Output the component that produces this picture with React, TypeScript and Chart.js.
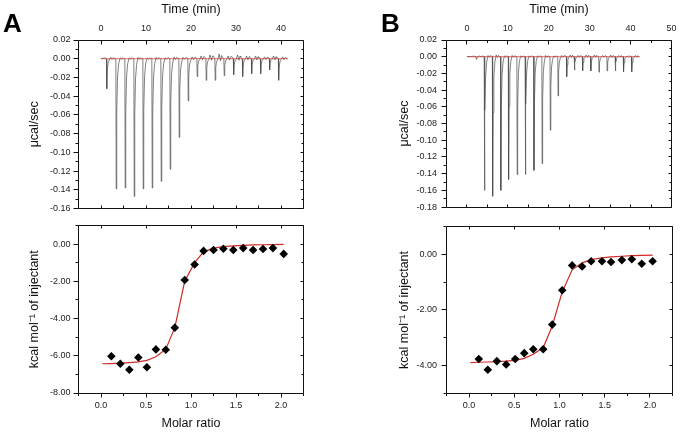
import React, { useEffect, useRef } from 'react';
import { Chart, registerables } from 'chart.js';

Chart.register(...registerables);
Chart.defaults.font.family = "'Liberation Sans', Arial, sans-serif";

// ---------------- Panel A data ----------------
const injTimeA = [1.2, 3.3, 5.3, 7.3, 9.3, 11.3, 13.3, 15.3, 17.3, 19.3, 21.3, 23.3, 25.3, 27.3, 29.4, 31.4, 33.4, 35.4, 37.4, 39.4];
const injPeakA = [-0.032, -0.139, -0.138, -0.147, -0.139, -0.138, -0.131, -0.118, -0.084, -0.045, -0.019, -0.023, -0.023, -0.018, -0.017, -0.019, -0.016, -0.016, -0.012, -0.023];
const injNoiseA = [0.0015, 0.001, 0.001, 0.0015, 0.001, 0.0015, 0.001, 0.002, 0.0015, 0.002, 0.003, 0.004, 0.005, 0.003, 0.004, 0.003, 0.003, 0.002, 0.003, 0.002];
const traceEndA = 41.4;
const baselineA = [0, 41.6];

const molarA = [0.115, 0.215, 0.315, 0.415, 0.51, 0.61, 0.72, 0.82, 0.93, 1.04, 1.14, 1.25, 1.36, 1.47, 1.58, 1.69, 1.80, 1.91, 2.03];
const heatA = [-6.03, -6.43, -6.75, -6.09, -6.62, -5.66, -5.68, -4.49, -1.93, -1.10, -0.37, -0.32, -0.25, -0.32, -0.22, -0.32, -0.27, -0.22, -0.53];
const fitMolarA = [0.015, 0.115, 0.215, 0.315, 0.415, 0.51, 0.61, 0.72, 0.82, 0.93, 1.04, 1.14, 1.25, 1.36, 1.47, 1.58, 1.69, 1.80, 1.91, 2.03];
const fitHeatA = [-6.43, -6.42, -6.40, -6.37, -6.33, -6.25, -6.05, -5.65, -4.49, -2.0, -1.0, -0.42, -0.22, -0.14, -0.10, -0.07, -0.05, -0.04, -0.03, -0.02];

// ---------------- Panel B data ----------------
const injTimeB = [2.2, 4.2, 6.2, 8.2, 10.1, 12.2, 14.2, 16.3, 18.3, 20.3, 22.2, 24.3, 26.2, 28.2, 30.2, 32.2, 34.2, 36.2, 38.2, 40.2];
const injPeakB = [-0.003, -0.160, -0.167, -0.160, -0.147, -0.141, -0.141, -0.136, -0.128, -0.088, -0.047, -0.024, -0.016, -0.017, -0.017, -0.0185, -0.017, -0.017, -0.018, -0.018];
const injNoiseB = [0.001, 0.0015, 0.002, 0.001, 0.0015, 0.001, 0.001, 0.001, 0.0015, 0.001, 0.0015, 0.002, 0.0015, 0.002, 0.002, 0.0015, 0.002, 0.0015, 0.001, 0.0015];
const traceEndB = 41.8;
const baselineB = [0, 42.3];

const molarB = [0.107, 0.207, 0.307, 0.41, 0.51, 0.61, 0.71, 0.82, 0.92, 1.03, 1.14, 1.25, 1.35, 1.47, 1.57, 1.69, 1.80, 1.91, 2.03];
const heatB = [-3.77, -4.16, -3.85, -3.97, -3.77, -3.56, -3.42, -3.42, -2.53, -1.29, -0.39, -0.43, -0.24, -0.24, -0.27, -0.20, -0.17, -0.33, -0.24];
const fitMolarB = [0.015, 0.107, 0.207, 0.307, 0.41, 0.51, 0.61, 0.71, 0.82, 0.92, 1.03, 1.14, 1.25, 1.35, 1.47, 1.57, 1.69, 1.80, 1.91, 2.03];
const fitHeatB = [-3.90, -3.89, -3.88, -3.87, -3.85, -3.82, -3.75, -3.60, -3.36, -2.58, -1.35, -0.55, -0.30, -0.18, -0.12, -0.08, -0.06, -0.04, -0.03, -0.02];

// ---------------- Tick values ----------------
const timeTicksA = [0, 10, 20, 30, 40];
const timeMinorA = [5, 15, 25, 35];
const timeTicksB = [0, 10, 20, 30, 40, 50];
const timeMinorB = [5, 15, 25, 35, 45];
const rateTicksA = [0.02, 0, -0.02, -0.04, -0.06, -0.08, -0.1, -0.12, -0.14, -0.16];
const rateMinorA = [0.01, -0.01, -0.03, -0.05, -0.07, -0.09, -0.11, -0.13, -0.15];
const rateTicksB = [0.02, 0, -0.02, -0.04, -0.06, -0.08, -0.1, -0.12, -0.14, -0.16, -0.18];
const rateMinorB = [0.01, -0.01, -0.03, -0.05, -0.07, -0.09, -0.11, -0.13, -0.15, -0.17];
const heatTicksA = [0, -2, -4, -6, -8];
const heatMinorA = [1, -1, -3, -5, -7];
const heatTicksB = [0, -2, -4];
const heatMinorB = [1, -1, -3, -5];
const molarTicks = [0, 0.5, 1, 1.5, 2];
const molarMinor = [-0.25, 0.25, 0.75, 1.25, 1.75, 2.25];

function buildTrace(times: number[], peaks: number[], noise: number[], tEnd: number) {
  const pts: { x: number; y: number }[] = [{ x: 0, y: 0 }];
  times.forEach((t, i) => {
    const d = peaks[i];
    const b = noise[i];
    pts.push(
      { x: t - 0.35, y: b * 0.6 },
      { x: t, y: 0 },
      { x: t + 0.08, y: d },
      { x: t + 0.2, y: d * 0.4 },
      { x: t + 0.38, y: d * 0.14 },
      { x: t + 0.62, y: d * 0.04 },
      { x: t + 0.95, y: b },
      { x: t + 1.25, y: -b * 0.4 },
      { x: t + 1.5, y: b * 0.7 }
    );
  });
  pts.push({ x: tEnd, y: 0 });
  return pts;
}

const frameTicks = {
  id: 'frameTicks',
  afterDraw(chart: any, _args: any, opts: any) {
    const { ctx, chartArea: a } = chart;
    const xs = chart.scales.x;
    const ys = chart.scales.y;
    const L = Math.floor(a.left) + 0.5;
    const R = Math.floor(a.right) + 0.5;
    const T = Math.floor(a.top) + 0.5;
    const B = Math.floor(a.bottom) + 0.5;
    ctx.save();
    ctx.strokeStyle = '#111';
    ctx.lineWidth = 1;
    ctx.beginPath();
    ctx.rect(L, T, R - L, B - T);
    ctx.stroke();
    ctx.beginPath();
    for (const m of opts.marks || []) {
      for (const v of m.values) {
        if (m.side === 'left' || m.side === 'right') {
          const y = Math.floor(ys.getPixelForValue(v)) + 0.5;
          const x0 = m.side === 'left' ? L : R;
          const dir = m.side === 'left' ? -1 : 1;
          ctx.moveTo(x0, y);
          ctx.lineTo(x0 + dir * m.len, y);
        } else {
          const x = Math.floor(xs.getPixelForValue(v)) + 0.5;
          const y0 = m.side === 'top' ? T : B;
          const dir = m.side === 'top' ? -1 : 1;
          ctx.moveTo(x, y0);
          ctx.lineTo(x, y0 + dir * m.len);
        }
      }
    }
    ctx.stroke();
    ctx.restore();
  },
};

type Spec = {
  left: number; top: number; w: number; h: number;
  datasets: any[];
  xMin: number; xMax: number; yMin: number; yMax: number;
  xTicks: number[]; yTicks: number[];
  xFmt: (v: number) => string; yFmt: (v: number) => string;
  xPos: 'top' | 'bottom';
  xTitle: string; yTitle: string;
  yWidth: number; xHeight: number;
  pad: { left: number; top: number; right: number; bottom: number };
  yLabelPad: number; xLabelPad: number;
  marks: any[];
};

function makeConfig(s: Spec): any {
  return {
    type: 'scatter',
    data: { datasets: s.datasets },
    plugins: [frameTicks],
    options: {
      responsive: false,
      animation: false,
      events: [],
      layout: { padding: s.pad },
      plugins: { legend: { display: false }, tooltip: { enabled: false }, frameTicks: { marks: s.marks } },
      scales: {
        x: {
          type: 'linear', position: s.xPos, min: s.xMin, max: s.xMax, bounds: 'data',
          afterBuildTicks: (sc: any) => { sc.ticks = s.xTicks.map((v) => ({ value: v })); },
          afterFit: (sc: any) => { sc.height = s.xHeight; },
          grid: { display: false, drawTicks: false },
          border: { display: false },
          ticks: { padding: s.xLabelPad, font: { size: 9 }, color: '#222', maxRotation: 0, autoSkip: false, callback: (v: any) => s.xFmt(Number(v)) },
          title: { display: true, text: s.xTitle, font: { size: 12.5 }, color: '#111', padding: { top: 2.5, bottom: 2.5 } },
        },
        y: {
          type: 'linear', position: 'left', min: s.yMin, max: s.yMax, bounds: 'data',
          afterBuildTicks: (sc: any) => { sc.ticks = s.yTicks.map((v) => ({ value: v })); },
          afterFit: (sc: any) => { sc.width = s.yWidth; },
          grid: { display: false, drawTicks: false },
          border: { display: false },
          ticks: { padding: s.yLabelPad, font: { size: 9 }, color: '#222', autoSkip: false, callback: (v: any) => s.yFmt(Number(v)) },
          title: { display: true, text: s.yTitle, font: { size: 12.5 }, color: '#111', padding: { top: 27.5, bottom: 0 } },
        },
      },
    },
  };
}

const fmtInt = (v: number) => String(Math.round(v));
const fmt2 = (v: number) => (Math.abs(v) < 1e-9 ? '0.00' : v.toFixed(2));
const fmt1 = (v: number) => v.toFixed(1);

function rawDatasets(times: number[], peaks: number[], noise: number[], tEnd: number, base: number[]) {
  return [
    {
      data: base.map((t) => ({ x: t, y: 0 })),
      showLine: true, pointRadius: 0, borderColor: 'rgba(214,60,55,0.85)', borderWidth: 0.9,
    },
    {
      data: buildTrace(times, peaks, noise, tEnd),
      showLine: true, pointRadius: 0, borderColor: '#4a4a4a', borderWidth: 0.7, tension: 0,
    },
  ];
}

function heatDatasets(mx: number[], hy: number[], fx: number[], fy: number[]) {
  return [
    {
      data: mx.map((x, i) => ({ x, y: hy[i] })),
      pointStyle: 'rectRot', pointRadius: 4.3, backgroundColor: '#000', borderColor: '#000', borderWidth: 0, showLine: false,
    },
    {
      data: fx.map((x, i) => ({ x, y: fy[i] })),
      showLine: true, pointRadius: 0, borderColor: '#d02a26', borderWidth: 1.2,
    },
  ];
}

const specs: Spec[] = [
  {
    left: 0, top: 0, w: 310, h: 222,
    datasets: rawDatasets(injTimeA, injPeakA, injNoiseA, traceEndA, baselineA),
    xMin: -5, xMax: 45, yMin: -0.16, yMax: 0.02,
    xTicks: timeTicksA, yTicks: rateTicksA, xFmt: fmtInt, yFmt: fmt2,
    xPos: 'top', xTitle: 'Time (min)', yTitle: 'μcal/sec',
    yWidth: 78.5, xHeight: 40, pad: { left: 0, top: 0, right: 6.5, bottom: 5 },
    yLabelPad: 8, xLabelPad: 6.5,
    marks: [
      { side: 'left', values: rateTicksA, len: 5 },
      { side: 'left', values: rateMinorA, len: 3 },
      { side: 'right', values: rateTicksA, len: -3 },
      { side: 'right', values: rateMinorA, len: -2 },
      { side: 'top', values: timeTicksA, len: -4 },
      { side: 'top', values: timeMinorA, len: -2.5 },
      { side: 'bottom', values: timeTicksA, len: -3 },
      { side: 'bottom', values: timeMinorA, len: -3 },
    ],
  },
  {
    left: 0, top: 212, w: 310, h: 222,
    datasets: heatDatasets(molarA, heatA, fitMolarA, fitHeatA),
    xMin: -0.25, xMax: 2.25, yMin: -8, yMax: 1,
    xTicks: molarTicks, yTicks: heatTicksA, xFmt: fmt1, yFmt: fmt2,
    xPos: 'bottom', xTitle: 'Molar ratio', yTitle: 'kcal mol⁻¹ of injectant',
    yWidth: 78.5, xHeight: 41, pad: { left: 0, top: 5, right: 6.5, bottom: 0 },
    yLabelPad: 8, xLabelPad: 7.5,
    marks: [
      { side: 'left', values: heatTicksA, len: 5 },
      { side: 'left', values: heatMinorA, len: 3 },
      { side: 'right', values: heatTicksA, len: -3 },
      { side: 'right', values: heatMinorA, len: -2 },
      { side: 'top', values: molarTicks, len: -3 },
      { side: 'bottom', values: molarTicks, len: 4 },
      { side: 'bottom', values: molarMinor, len: 2.5 },
    ],
  },
  {
    left: 370, top: 0, w: 313, h: 222,
    datasets: rawDatasets(injTimeB, injPeakB, injNoiseB, traceEndB, baselineB),
    xMin: -5, xMax: 50, yMin: -0.18, yMax: 0.02,
    xTicks: timeTicksB, yTicks: rateTicksB, xFmt: fmtInt, yFmt: fmt2,
    xPos: 'top', xTitle: 'Time (min)', yTitle: 'μcal/sec',
    yWidth: 76.5, xHeight: 40, pad: { left: 0, top: 0, right: 10.5, bottom: 5 },
    yLabelPad: 9.5, xLabelPad: 6.5,
    marks: [
      { side: 'left', values: rateTicksB, len: 5 },
      { side: 'left', values: rateMinorB, len: 3 },
      { side: 'right', values: rateTicksB, len: -3 },
      { side: 'right', values: rateMinorB, len: -2 },
      { side: 'top', values: timeTicksB, len: -4 },
      { side: 'top', values: timeMinorB, len: -2.5 },
      { side: 'bottom', values: timeTicksB, len: -3 },
      { side: 'bottom', values: timeMinorB, len: -3 },
    ],
  },
  {
    left: 370, top: 212, w: 313, h: 222,
    datasets: heatDatasets(molarB, heatB, fitMolarB, fitHeatB),
    xMin: -0.25, xMax: 2.25, yMin: -5, yMax: 1,
    xTicks: molarTicks, yTicks: heatTicksB, xFmt: fmt1, yFmt: fmt2,
    xPos: 'bottom', xTitle: 'Molar ratio', yTitle: 'kcal mol⁻¹ of injectant',
    yWidth: 76.5, xHeight: 41, pad: { left: 0, top: 5, right: 10.5, bottom: 0 },
    yLabelPad: 9.5, xLabelPad: 7.5,
    marks: [
      { side: 'left', values: heatTicksB, len: 5 },
      { side: 'left', values: heatMinorB, len: 3 },
      { side: 'right', values: heatTicksB, len: -3 },
      { side: 'right', values: heatMinorB, len: -2 },
      { side: 'top', values: molarTicks, len: -3 },
      { side: 'bottom', values: molarTicks, len: 4 },
      { side: 'bottom', values: molarMinor, len: 2.5 },
    ],
  },
];

export default function App() {
  const refs = useRef<(HTMLCanvasElement | null)[]>([]);
  useEffect(() => {
    const charts = specs.map((s, i) => new Chart(refs.current[i] as HTMLCanvasElement, makeConfig(s)));
    return () => charts.forEach((c) => c.destroy());
  }, []);
  const letter: React.CSSProperties = {
    position: 'absolute', top: 10, fontFamily: "'Liberation Sans', Arial, sans-serif",
    fontWeight: 'bold', fontSize: 26, lineHeight: '26px', color: '#000',
  };
  return (
    <div style={{ position: 'fixed', left: 0, top: 0, width: 683, height: 434, background: '#fff', overflow: 'hidden' }}>
      {specs.map((s, i) => (
        <canvas
          key={i}
          ref={(el) => { refs.current[i] = el; }}
          width={s.w}
          height={s.h}
          style={{ position: 'absolute', left: s.left, top: s.top, width: s.w, height: s.h, display: 'block' }}
        />
      ))}
      <div style={{ ...letter, left: 3 }}>A</div>
      <div style={{ ...letter, left: 381 }}>B</div>
    </div>
  );
}
